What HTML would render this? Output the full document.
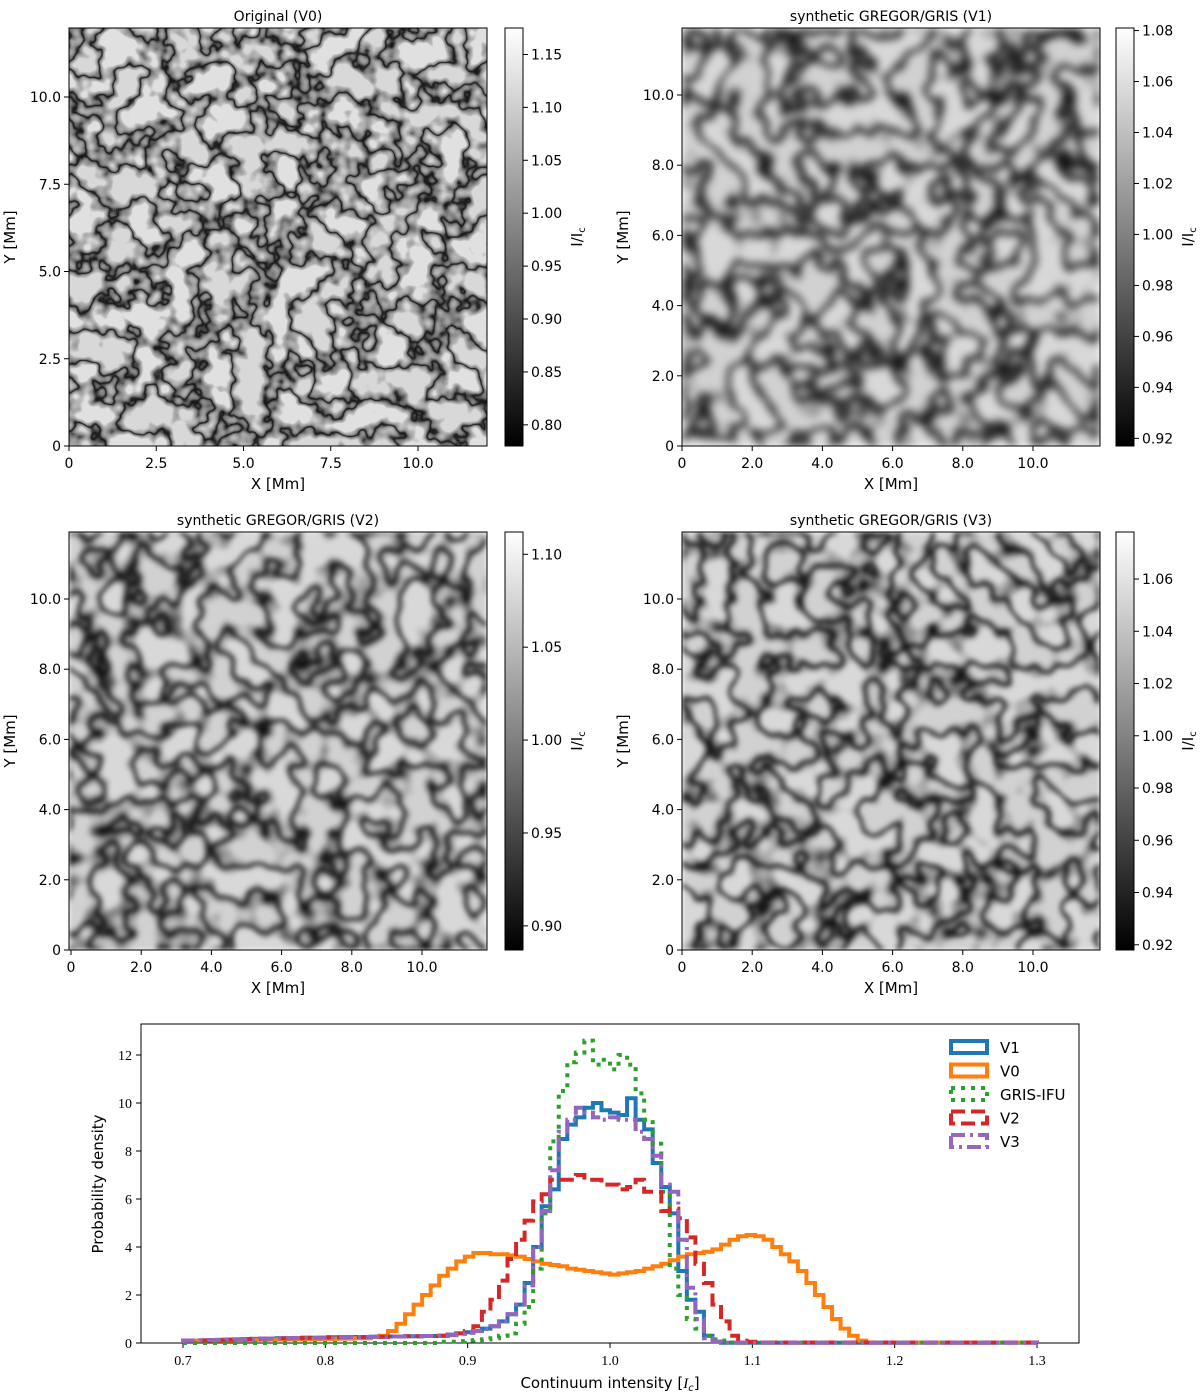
<!DOCTYPE html>
<html><head><meta charset="utf-8"><style>
body{margin:0;background:#fff;}
svg{display:block;font-family:"DejaVu Sans","Liberation Sans",sans-serif;}
text{fill:#000;}
</style></head><body>
<svg id="fig" width="1200" height="1399" viewBox="0 0 1200 1399" xmlns="http://www.w3.org/2000/svg">
<defs>
<filter id="gran0" x="0" y="0" width="100%" height="100%" color-interpolation-filters="sRGB">
<feTurbulence type="fractalNoise" baseFrequency="0.03" numOctaves="3" seed="3"/>
<feColorMatrix type="matrix" values="1 0 0 0 0 1 0 0 0 0 1 0 0 0 0 0 0 0 0 1"/>
<feComponentTransfer><feFuncR type="linear" slope="3.5" intercept="-1.25"/><feFuncG type="linear" slope="3.5" intercept="-1.25"/><feFuncB type="linear" slope="3.5" intercept="-1.25"/></feComponentTransfer>
<feComponentTransfer><feFuncR type="table" tableValues="0.85 0.72 0.62 0.45 0.08 0.45 0.62 0.72 0.88"/><feFuncG type="table" tableValues="0.85 0.72 0.62 0.45 0.08 0.45 0.62 0.72 0.88"/><feFuncB type="table" tableValues="0.85 0.72 0.62 0.45 0.08 0.45 0.62 0.72 0.88"/></feComponentTransfer>
</filter>
<filter id="gran1" x="0" y="0" width="100%" height="100%" color-interpolation-filters="sRGB">
<feTurbulence type="fractalNoise" baseFrequency="0.03" numOctaves="2" seed="3"/>
<feColorMatrix type="matrix" values="1 0 0 0 0 1 0 0 0 0 1 0 0 0 0 0 0 0 0 1"/>
<feComponentTransfer><feFuncR type="linear" slope="3.5" intercept="-1.25"/><feFuncG type="linear" slope="3.5" intercept="-1.25"/><feFuncB type="linear" slope="3.5" intercept="-1.25"/></feComponentTransfer>
<feComponentTransfer><feFuncR type="table" tableValues="0.82 0.72 0.58 0.32 0.05 0.32 0.58 0.72 0.85"/><feFuncG type="table" tableValues="0.82 0.72 0.58 0.32 0.05 0.32 0.58 0.72 0.85"/><feFuncB type="table" tableValues="0.82 0.72 0.58 0.32 0.05 0.32 0.58 0.72 0.85"/></feComponentTransfer>
<feGaussianBlur stdDeviation="4"/>
</filter>
<filter id="gran2" x="0" y="0" width="100%" height="100%" color-interpolation-filters="sRGB">
<feTurbulence type="fractalNoise" baseFrequency="0.03" numOctaves="2" seed="3"/>
<feColorMatrix type="matrix" values="1 0 0 0 0 1 0 0 0 0 1 0 0 0 0 0 0 0 0 1"/>
<feComponentTransfer><feFuncR type="linear" slope="3.5" intercept="-1.25"/><feFuncG type="linear" slope="3.5" intercept="-1.25"/><feFuncB type="linear" slope="3.5" intercept="-1.25"/></feComponentTransfer>
<feComponentTransfer><feFuncR type="table" tableValues="0.82 0.72 0.6 0.4 0.05 0.4 0.6 0.72 0.85"/><feFuncG type="table" tableValues="0.82 0.72 0.6 0.4 0.05 0.4 0.6 0.72 0.85"/><feFuncB type="table" tableValues="0.82 0.72 0.6 0.4 0.05 0.4 0.6 0.72 0.85"/></feComponentTransfer>
<feGaussianBlur stdDeviation="2.5"/>
</filter>
<linearGradient id="cbar" x1="0" y1="1" x2="0" y2="0"><stop offset="0" stop-color="#000"/><stop offset="1" stop-color="#fff"/></linearGradient>
</defs>
</svg>
<script>
// ---- histogram data (bins 0.70..1.30, width 0.006) ----
const binStart = 0.7, binWidth = 0.006;
const v0 = [0.1,0.1,0.1,0.1,0.1,0.1,0.12,0.12,0.13,0.13,0.14,0.14,0.15,0.15,0.16,0.16,0.17,0.17,0.18,0.18,0.2,0.2,0.25,0.3,0.5,0.8,1.2,1.6,2.0,2.4,2.8,3.1,3.4,3.6,3.75,3.75,3.7,3.7,3.65,3.6,3.5,3.4,3.3,3.25,3.2,3.1,3.05,3.0,2.95,2.9,2.85,2.9,2.95,3.0,3.1,3.2,3.3,3.45,3.6,3.7,3.75,3.8,3.9,4.1,4.3,4.45,4.5,4.45,4.3,4.0,3.7,3.4,3.0,2.5,2.0,1.5,1.0,0.6,0.3,0.1,0.02,0.02,0.02,0.02,0.02,0.02,0.02,0.02,0.02,0.02,0.02,0.02,0.02,0.02,0.02,0.02,0.02,0.02,0.02,0.02];
const v1 = [0.1,0.1,0.11,0.12,0.13,0.14,0.15,0.16,0.17,0.18,0.19,0.2,0.2,0.21,0.22,0.22,0.23,0.24,0.24,0.25,0.25,0.25,0.26,0.26,0.27,0.27,0.28,0.28,0.29,0.29,0.3,0.35,0.4,0.45,0.5,0.6,0.7,0.9,1.2,1.6,2.5,4.0,5.7,6.4,8.5,9.1,9.4,9.8,10.0,9.7,9.6,9.5,10.2,9.3,8.9,7.5,6.5,5.4,3.0,1.8,1.3,0.3,0.05,0.01,0.01,0.01,0.01,0.01,0.01,0.01,0.01,0.01,0.01,0.01,0.01,0.01,0.01,0.01,0.01,0.01,0.01,0.01,0.01,0.01,0.01,0.01,0.01,0.01,0.01,0.01,0.01,0.01,0.01,0.01,0.01,0.01,0.01,0.01,0.01,0.01];
const gris = [0,0,0,0,0,0,0,0,0,0,0,0,0,0,0,0,0,0,0,0,0,0,0,0,0,0,0,0,0,0,0.05,0.05,0.08,0.1,0.12,0.15,0.2,0.3,0.4,0.8,1.5,3.1,5.4,8.4,10.5,11.7,12.1,12.6,11.6,11.8,11.4,12.0,11.6,10.4,9.3,8.3,6.3,3.1,2.0,1.0,0.6,0.3,0.15,0.1,0.02,0.02,0.02,0.02,0.02,0.02,0.02,0.02,0.02,0.02,0.02,0.02,0.02,0.02,0.02,0.02,0.02,0.02,0.02,0.02,0.02,0.02,0.02,0.02,0.02,0.02,0.02,0.02,0.02,0.02,0.02,0.02,0.02,0.02,0.02,0.02];
const v2 = [0.1,0.1,0.11,0.12,0.13,0.14,0.15,0.16,0.17,0.18,0.19,0.2,0.2,0.21,0.22,0.22,0.23,0.24,0.24,0.25,0.25,0.25,0.26,0.26,0.27,0.27,0.28,0.28,0.29,0.29,0.3,0.35,0.4,0.5,0.7,1.3,1.8,2.6,3.5,4.3,5.1,5.9,6.2,6.8,6.8,6.8,7.0,6.8,6.8,6.6,6.6,6.4,6.5,6.8,6.3,6.3,5.5,5.6,5.2,4.4,3.3,2.5,1.6,0.9,0.3,0.1,0.05,0.02,0.02,0.02,0.02,0.02,0.02,0.02,0.02,0.02,0.02,0.02,0.02,0.02,0.02,0.02,0.02,0.02,0.02,0.02,0.02,0.02,0.02,0.02,0.02,0.02,0.02,0.02,0.02,0.02,0.02,0.02,0.02,0.02];
const v3 = [0.1,0.1,0.11,0.12,0.13,0.14,0.15,0.16,0.17,0.18,0.19,0.2,0.2,0.21,0.22,0.22,0.23,0.24,0.24,0.25,0.25,0.25,0.26,0.26,0.27,0.27,0.28,0.28,0.29,0.29,0.3,0.33,0.38,0.42,0.5,0.58,0.7,0.9,1.2,1.6,2.4,4.0,5.5,7.2,8.8,9.3,9.8,9.6,9.4,9.3,9.4,9.3,9.3,8.8,8.5,7.8,6.6,6.3,4.3,2.3,1.0,0.2,0.05,0.01,0.01,0.01,0.01,0.01,0.01,0.01,0.01,0.01,0.01,0.01,0.01,0.01,0.01,0.01,0.01,0.01,0.01,0.01,0.01,0.01,0.01,0.01,0.01,0.01,0.01,0.01,0.01,0.01,0.01,0.01,0.01,0.01,0.01,0.01,0.01,0.01];
const histXTicks = ["0.7","0.8","0.9","1.0","1.1","1.2","1.3"];
const histYTicks = [0,2,4,6,8,10,12];

// ---- image panels ----
const panelTitles = ["Original (V0)","synthetic GREGOR/GRIS (V1)","synthetic GREGOR/GRIS (V2)","synthetic GREGOR/GRIS (V3)"];
const panelXTicks = [[0,2.5,5.0,7.5,10.0],[0,2.0,4.0,6.0,8.0,10.0],[0,2.0,4.0,6.0,8.0,10.0],[0,2.0,4.0,6.0,8.0,10.0]];
const panelXLabels = [["0","2.5","5.0","7.5","10.0"],["0","2.0","4.0","6.0","8.0","10.0"],["0","2.0","4.0","6.0","8.0","10.0"],["0","2.0","4.0","6.0","8.0","10.0"]];
const cbMin = [0.78,0.917,0.887,0.918];
const cbMax = [1.175,1.081,1.112,1.078];
const cbTicks = [[0.80,0.85,0.90,0.95,1.00,1.05,1.10,1.15],[0.92,0.94,0.96,0.98,1.00,1.02,1.04,1.06,1.08],[0.90,0.95,1.00,1.05,1.10],[0.92,0.94,0.96,0.98,1.00,1.02,1.04,1.06]];

const NS="http://www.w3.org/2000/svg";
const svg=document.getElementById('fig');
function mk(tag,attrs,parent){const e=document.createElementNS(NS,tag);for(const k in attrs)e.setAttribute(k,attrs[k]);(parent||svg).appendChild(e);return e;}
function txt(x,y,s,attrs,parent){const t=mk('text',Object.assign({x:x,y:y,'font-size':15},attrs||{}),parent);t.textContent=s;return t;}

const layout=[{x:69,y:28,cx:505,pxMm:34.9},{x:682,y:28,cx:1116,pxMm:35.1},{x:69,y:532,cx:505,pxMm:35.1},{x:682,y:532,cx:1116,pxMm:35.1}];
const filters=['gran0','gran1','gran2','gran2'];
layout.forEach((L,p)=>{
  const g=mk('g',{});
  
  
  const W=418,H=418;
  const img=mk('rect',{x:L.x,y:L.y,width:W,height:H,filter:'url(#'+filters[p]+')'},g);
  
  
  mk('rect',{x:L.x,y:L.y,width:W,height:H,fill:'none',stroke:'#000','stroke-width':1},g);
  const t=txt(L.x+W/2,L.y-7,panelTitles[p],{'text-anchor':'middle','font-size':14},g);
  
  
  const x0=L.x+(p==2?2:0);
  panelXTicks[p].forEach((v,i)=>{
    const xx=x0+v*L.pxMm;
    mk('line',{x1:xx,x2:xx,y1:L.y+H,y2:L.y+H+5,stroke:'#000'},g);
    txt(xx,L.y+H+22,panelXLabels[p][i],{'text-anchor':'middle','font-size':14},g);
    const yy=L.y+H-v*L.pxMm;
    mk('line',{x1:L.x,x2:L.x-5,y1:yy,y2:yy,stroke:'#000'},g);
    txt(L.x-8,yy+5,panelXLabels[p][i],{'text-anchor':'end','font-size':14},g);
  });
  const xl=txt(L.x+W/2,L.y+H+43,'X [Mm]',{'text-anchor':'middle','font-size':15},g);
  
  
  const yl=txt(0,0,'Y [Mm]',{'text-anchor':'middle','font-size':15,transform:'translate('+(L.x-54)+','+(L.y+H/2)+') rotate(-90)'},g);
  
  
  const cb=mk('rect',{x:L.cx,y:L.y,width:18,height:H,fill:'url(#cbar)',stroke:'#000','stroke-width':1},g);
  
  
  cbTicks[p].forEach(v=>{
    const yy=L.y+H-(v-cbMin[p])/(cbMax[p]-cbMin[p])*H;
    mk('line',{x1:L.cx+18,x2:L.cx+23,y1:yy,y2:yy,stroke:'#000'},g);
    txt(L.cx+26,yy+5,v.toFixed(2),{'font-size':14},g);
  });
  const cl=txt(0,0,'I/I',{'font-size':15,'text-anchor':'middle',transform:'translate('+(L.cx+77)+','+(L.y+H/2)+') rotate(-90)'},g);
  const sub=mk('tspan',{'font-size':10,dy:3},cl);sub.textContent='c';
  
  
});

// ---- histogram ----
const hx0=141,hx1=1079,hy0=1024,hy1=1343;
const xs=v=>183+(v-0.7)/0.6*(1037-183);
const ys=v=>1343-v*24;
const hg=mk('g',{});


mk('rect',{x:hx0,y:hy0,width:hx1-hx0,height:hy1-hy0,fill:'none',stroke:'#000'},hg);
histXTicks.forEach(s=>{const v=parseFloat(s),xx=xs(v);mk('line',{x1:xx,x2:xx,y1:hy1,y2:hy1+5,stroke:'#000'},hg);txt(xx,hy1+22,s,{'text-anchor':'middle','font-size':14,'font-family':'Liberation Serif, serif'},hg);});
histYTicks.forEach(v=>{const yy=ys(v);mk('line',{x1:hx0,x2:hx0-5,y1:yy,y2:yy,stroke:'#000'},hg);txt(hx0-9,yy+5,String(v),{'text-anchor':'end','font-size':14,'font-family':'Liberation Serif, serif'},hg);});
const hxl=txt(610,1388,'Continuum intensity [',{'text-anchor':'middle','font-size':15},hg);
const it=mk('tspan',{'font-style':'italic','font-family':'Liberation Serif, serif'},hxl);it.textContent='I';
const it2=mk('tspan',{'font-size':10,dy:3,'font-style':'italic'},hxl);it2.textContent='c';
const it3=mk('tspan',{dy:-3},hxl);it3.textContent=']';


const hyl=txt(0,0,'Probability density',{'text-anchor':'middle','font-size':15,transform:'translate(103,1184) rotate(-90)'},hg);



function stepPath(arr){
  let d='M'+xs(binStart)+','+ys(0);
  arr.forEach((v,i)=>{const a=xs(binStart+i*binWidth),b=xs(binStart+(i+1)*binWidth);d+=' L'+a+','+ys(v)+' L'+b+','+ys(v);});
  d+=' L'+xs(binStart+arr.length*binWidth)+','+ys(0);
  return d;
}
const series=[
 {name:'V1',data:v1,color:'#1f77b4',dash:'none'},
 {name:'V0',data:v0,color:'#ff7f0e',dash:'none'},
 {name:'GRIS-IFU',data:gris,color:'#2ca02c',dash:'4,6'},
 {name:'V2',data:v2,color:'#d62728',dash:'14,6'},
 {name:'V3',data:v3,color:'#9467bd',dash:'14,5,3,5'}
];
series.forEach((s,k)=>{
  const p=mk('path',{d:stepPath(s.data),fill:'none',stroke:s.color,'stroke-width':4,'stroke-dasharray':s.dash},hg);
  
  
  const ly=1047+k*23.5;
  const lr=mk('rect',{x:951,y:ly-6,width:36,height:12,fill:'none',stroke:s.color,'stroke-width':4,'stroke-dasharray':s.dash},hg);
  
  
  txt(1000,ly+6,s.name,{'font-size':15},hg);
});
</script>
</body></html>
